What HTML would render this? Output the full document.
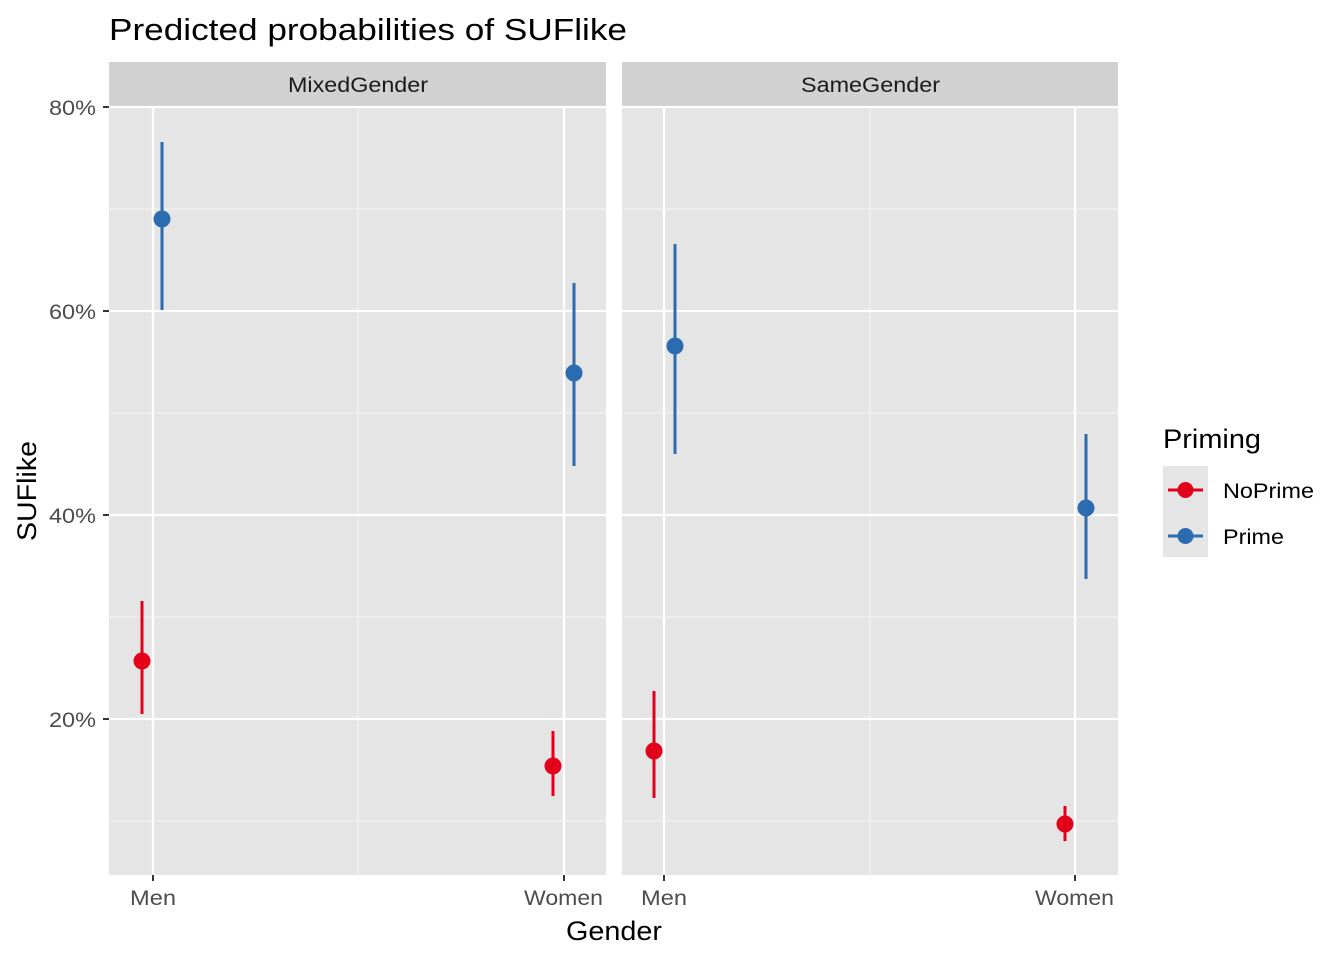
<!DOCTYPE html>
<html><head><meta charset="utf-8"><style>
html,body{margin:0;padding:0;background:#fff;}
svg{display:block;font-family:"Liberation Sans",Arial,sans-serif;}
</style></head><body>
<svg width="1344" height="960" viewBox="0 0 1344 960" xmlns="http://www.w3.org/2000/svg">
<rect width="1344" height="960" fill="#fff"/>
<text x="109" y="40" font-size="31" fill="#000" textLength="518" lengthAdjust="spacingAndGlyphs">Predicted probabilities of SUFlike</text>
<rect x="109" y="62" width="497" height="44" fill="#d1d1d1"/>
<rect x="622" y="62" width="496" height="44" fill="#d1d1d1"/>
<text x="288" y="92" font-size="21" fill="#1a1a1a" textLength="140" lengthAdjust="spacingAndGlyphs">MixedGender</text>
<text x="801" y="92" font-size="21" fill="#1a1a1a" textLength="139" lengthAdjust="spacingAndGlyphs">SameGender</text>
<g>
<rect x="109" y="106" width="497" height="769" fill="#e5e5e5"/>
<g stroke="#f2f2f2" stroke-width="1.2">
<line x1="109" x2="606" y1="821" y2="821"/><line x1="109" x2="606" y1="617" y2="617"/>
<line x1="109" x2="606" y1="413" y2="413"/><line x1="109" x2="606" y1="209" y2="209"/>
<line x1="358" x2="358" y1="106" y2="875"/>
</g>
<g stroke="#fff" stroke-width="2.3">
<line x1="109" x2="606" y1="719" y2="719"/><line x1="109" x2="606" y1="515" y2="515"/>
<line x1="109" x2="606" y1="311" y2="311"/><line x1="109" x2="606" y1="107" y2="107"/>
<line x1="153" x2="153" y1="106" y2="875"/><line x1="564" x2="564" y1="106" y2="875"/>
</g>
</g>
<g>
<rect x="622" y="106" width="496" height="769" fill="#e5e5e5"/>
<g stroke="#f2f2f2" stroke-width="1.2">
<line x1="622" x2="1118" y1="821" y2="821"/><line x1="622" x2="1118" y1="617" y2="617"/>
<line x1="622" x2="1118" y1="413" y2="413"/><line x1="622" x2="1118" y1="209" y2="209"/>
<line x1="870" x2="870" y1="106" y2="875"/>
</g>
<g stroke="#fff" stroke-width="2.3">
<line x1="622" x2="1118" y1="719" y2="719"/><line x1="622" x2="1118" y1="515" y2="515"/>
<line x1="622" x2="1118" y1="311" y2="311"/><line x1="622" x2="1118" y1="107" y2="107"/>
<line x1="664" x2="664" y1="106" y2="875"/><line x1="1075" x2="1075" y1="106" y2="875"/>
</g>
</g>
<g stroke-width="3">
<line x1="142" x2="142" y1="601" y2="714" stroke="#e3001b"/>
<line x1="162" x2="162" y1="142" y2="310" stroke="#2b6cb0"/>
<line x1="553" x2="553" y1="731" y2="796" stroke="#e3001b"/>
<line x1="574" x2="574" y1="283" y2="466" stroke="#2b6cb0"/>
<line x1="654" x2="654" y1="691" y2="798" stroke="#e3001b"/>
<line x1="675" x2="675" y1="244" y2="454" stroke="#2b6cb0"/>
<line x1="1065" x2="1065" y1="806" y2="841" stroke="#e3001b"/>
<line x1="1086" x2="1086" y1="434" y2="579" stroke="#2b6cb0"/>
</g>
<g>
<circle cx="142" cy="661" r="8.5" fill="#e3001b"/>
<circle cx="162" cy="219" r="8.5" fill="#2b6cb0"/>
<circle cx="553" cy="766" r="8.5" fill="#e3001b"/>
<circle cx="574" cy="373" r="8.5" fill="#2b6cb0"/>
<circle cx="654" cy="751" r="8.5" fill="#e3001b"/>
<circle cx="675" cy="346" r="8.5" fill="#2b6cb0"/>
<circle cx="1065" cy="824" r="8.5" fill="#e3001b"/>
<circle cx="1086" cy="508" r="8.5" fill="#2b6cb0"/>
</g>
<g stroke="#333" stroke-width="2">
<line x1="103" x2="109" y1="107" y2="107"/><line x1="103" x2="109" y1="311" y2="311"/>
<line x1="103" x2="109" y1="515" y2="515"/><line x1="103" x2="109" y1="719" y2="719"/>
<line x1="153" x2="153" y1="875" y2="881"/><line x1="564" x2="564" y1="875" y2="881"/>
<line x1="664" x2="664" y1="875" y2="881"/><line x1="1075" x2="1075" y1="875" y2="881"/>
</g>
<g font-size="21" fill="#4d4d4d">
<text x="49" y="115" textLength="47" lengthAdjust="spacingAndGlyphs">80%</text>
<text x="49" y="319" textLength="47" lengthAdjust="spacingAndGlyphs">60%</text>
<text x="49" y="523" textLength="47" lengthAdjust="spacingAndGlyphs">40%</text>
<text x="49" y="727" textLength="47" lengthAdjust="spacingAndGlyphs">20%</text>
<text x="130" y="905" textLength="46" lengthAdjust="spacingAndGlyphs">Men</text>
<text x="524" y="905" textLength="79" lengthAdjust="spacingAndGlyphs">Women</text>
<text x="641" y="905" textLength="46" lengthAdjust="spacingAndGlyphs">Men</text>
<text x="1035" y="905" textLength="79" lengthAdjust="spacingAndGlyphs">Women</text>
</g>
<text x="566" y="940" font-size="27" fill="#000" textLength="96" lengthAdjust="spacingAndGlyphs">Gender</text>
<text transform="translate(36,541) rotate(-90)" font-size="27" fill="#000" textLength="100" lengthAdjust="spacingAndGlyphs">SUFlike</text>
<text x="1163" y="448" font-size="27" fill="#000" textLength="98" lengthAdjust="spacingAndGlyphs">Priming</text>
<rect x="1163" y="466" width="45" height="91" fill="#e5e5e5"/>
<line x1="1168" x2="1203" y1="490" y2="490" stroke="#e3001b" stroke-width="3"/>
<circle cx="1185.5" cy="490" r="8" fill="#e3001b"/>
<line x1="1168" x2="1203" y1="536" y2="536" stroke="#2b6cb0" stroke-width="3"/>
<circle cx="1185.5" cy="536" r="8" fill="#2b6cb0"/>
<text x="1223" y="498" font-size="21" fill="#000" textLength="91" lengthAdjust="spacingAndGlyphs">NoPrime</text>
<text x="1223" y="544" font-size="21" fill="#000" textLength="61" lengthAdjust="spacingAndGlyphs">Prime</text>
</svg>
</body></html>
